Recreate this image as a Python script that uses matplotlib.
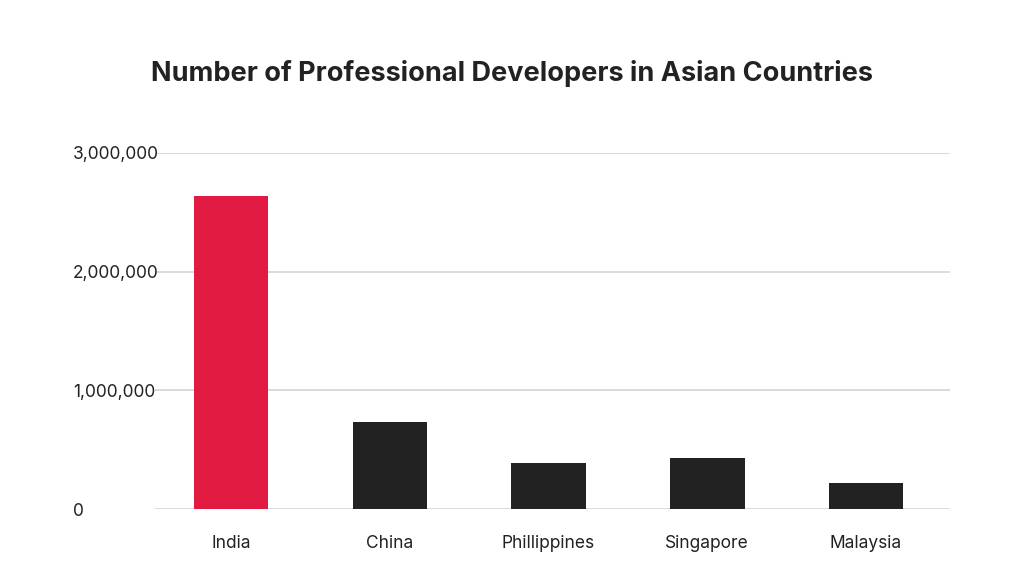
import matplotlib
matplotlib.use("Agg")
import matplotlib.pyplot as plt
from matplotlib.ticker import FuncFormatter

countries = ["India", "China", "Phillippines", "Singapore", "Malaysia"]
developers = [2640000, 730000, 390000, 430000, 222000]
bar_colors = ["#E01A40", "#222222", "#222222", "#222222", "#222222"]
y_ticks = [0, 1000000, 2000000, 3000000]

plt.rcParams['font.family'] = ['Inter', 'DejaVu Sans']

fig = plt.figure(figsize=(10.24, 5.85), dpi=100)
ax = fig.add_axes([155 / 1024, 76 / 585, 795 / 1024, 356 / 585])

ax.bar(range(len(countries)), developers, width=0.47, color=bar_colors, zorder=3)

ax.set_ylim(0, 3000000)
ax.set_xlim(-0.48, 4.53)
ax.set_yticks(y_ticks)
ax.yaxis.set_major_formatter(FuncFormatter(lambda v, p: f"{int(v):,}"))
ax.set_xticks(range(len(countries)))
ax.set_xticklabels(countries)

ax.grid(axis='y', color='#d4d4d4', linewidth=1.2, zorder=0)
for s in ax.spines.values():
    s.set_visible(False)

ax.tick_params(axis='y', length=0, pad=59, labelsize=12.5, labelcolor='#222222')
ax.tick_params(axis='x', length=0, pad=19, labelsize=12.5, labelcolor='#222222')
for lab in ax.get_yticklabels():
    lab.set_horizontalalignment('left')

fig.suptitle("Number of Professional Developers in Asian Countries",
             x=0.5, y=0.875, va='center', fontsize=19.5, fontweight='bold',
             color='#222222')

fig.savefig("out.png", dpi=100, facecolor='white')
